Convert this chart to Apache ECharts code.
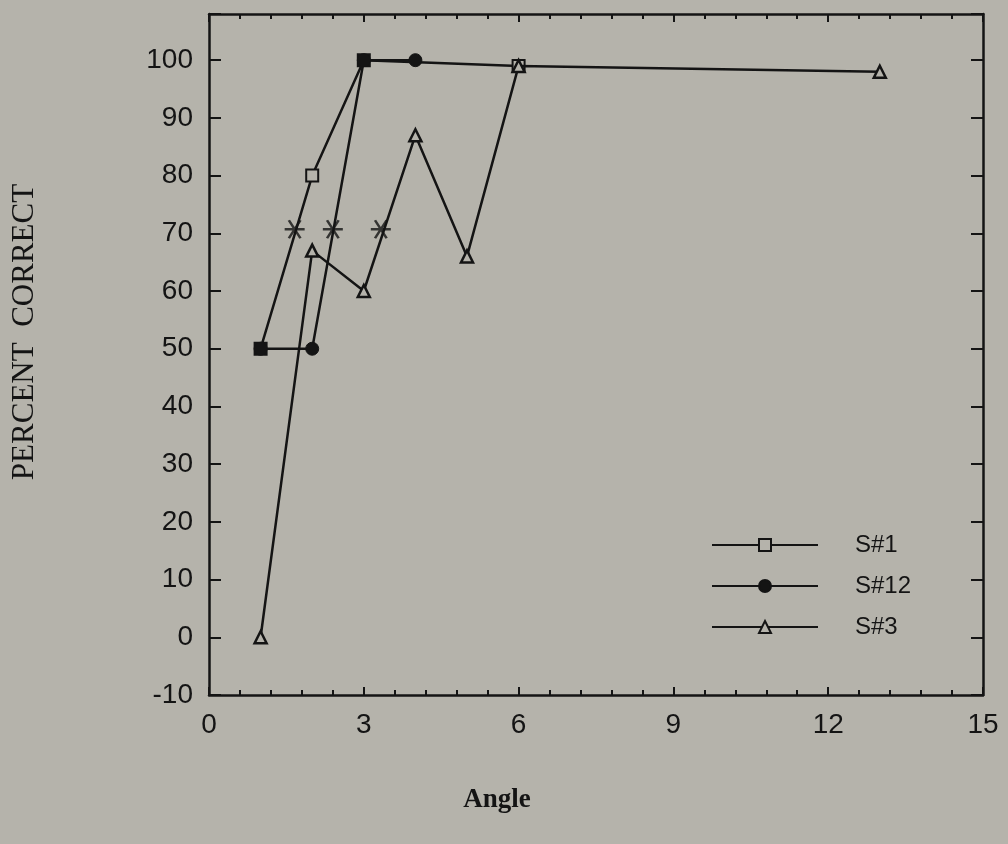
<!DOCTYPE html>
<html>
<head>
<meta charset="utf-8">
<script src="https://cdn.jsdelivr.net/npm/echarts@6/dist/echarts.min.js"></script>
<style>
  html, body { margin: 0; padding: 0; background: #b5b3ab; }
  #chart { width: 1008px; height: 844px; }
</style>
</head>
<body>
<div id="chart"></div>
<script>
// Percent correct versus angle for three subjects
const seriesNames = ['S#1', 'S#12', 'S#3'];

const s1Angle = [1, 2, 3, 6];
const s1Pct   = [50, 80, 100, 99];

const s12Angle = [1, 2, 3, 4];
const s12Pct   = [50, 50, 100, 100];

const s3Angle = [1, 2, 3, 4, 5, 6, 13];
const s3Pct   = [0, 67, 60, 87, 66, 99, 98];

// 70.7% threshold crossings marked with asterisks
const thrAngle = [1.66, 2.40, 3.33];
const thrPct   = [70.7, 70.7, 70.7];

const xTickStep = 3;
const yTickStep = 10;

const INK = '#141414';
const PAPER = '#b5b3ab';
const SANS = '"Liberation Sans", Arial, sans-serif';
const SERIF = '"Liberation Serif", "Times New Roman", serif';

const pairs = (xs, ys) => xs.map((x, i) => [x, ys[i]]);

// S#1 squares look solid where an S#12 circle sits on the same point
const s12Keys = new Set(pairs(s12Angle, s12Pct).map(p => p.join(',')));
const s1Data = pairs(s1Angle, s1Pct).map(p => s12Keys.has(p.join(','))
  ? { value: p, itemStyle: { color: INK } }
  : { value: p });

const chart = echarts.init(document.getElementById('chart'));

const xCommon = {
  type: 'value', min: 0, max: 15, interval: xTickStep,
  axisLine: { show: true, onZero: false, lineStyle: { color: INK, width: 2.5 } },
  axisTick: { show: true, inside: true, length: 8, lineStyle: { color: INK, width: 2 } },
  minorTick: { show: true, splitNumber: 5, length: 5, lineStyle: { color: INK, width: 2 } },
  splitLine: { show: false }
};
const yCommon = {
  type: 'value', min: -10, max: 108, interval: yTickStep,
  axisLine: { show: true, onZero: false, lineStyle: { color: INK, width: 2.5 } },
  axisTick: { show: true, inside: true, length: 12, lineStyle: { color: INK, width: 2 } },
  splitLine: { show: false }
};

chart.setOption({
  backgroundColor: PAPER,
  animation: false,
  grid: { left: 209, right: 25, top: 14, bottom: 149 },
  xAxis: [
    Object.assign({}, xCommon, {
      position: 'bottom',
      axisLabel: { show: true, margin: 16, fontSize: 28, fontFamily: SANS, color: INK }
    }),
    Object.assign({}, xCommon, { position: 'top', axisLabel: { show: false } })
  ],
  yAxis: [
    Object.assign({}, yCommon, {
      position: 'left',
      axisLabel: {
        show: true, margin: 16, fontSize: 28, fontFamily: SANS, color: INK,
        formatter: v => (v % yTickStep === 0 && v <= 100) ? String(v) : ''
      }
    }),
    Object.assign({}, yCommon, { position: 'right', axisLabel: { show: false } })
  ],
  legend: {
    data: seriesNames,
    orient: 'vertical',
    left: 706, top: 528,
    itemWidth: 106, itemHeight: 15, itemGap: 17,
    textStyle: { fontSize: 24, fontFamily: SANS, color: INK, padding: [0, 0, 0, 32] }
  },
  graphic: [
    {
      type: 'text', x: 25, y: 332, rotation: Math.PI / 2,
      style: { text: 'PERCENT  CORRECT', font: '31px ' + SERIF, fill: INK, align: 'center', verticalAlign: 'middle' }
    },
    {
      type: 'text', x: 497, y: 800,
      style: { text: 'Angle', font: 'bold 27px ' + SERIF, fill: INK, align: 'center', verticalAlign: 'middle' }
    }
  ],
  series: [
    {
      name: 'S#1', type: 'line', data: s1Data,
      symbol: 'rect', symbolSize: 12,
      lineStyle: { color: INK, width: 2.5 },
      itemStyle: { color: PAPER, borderColor: INK, borderWidth: 2 },
      z: 3
    },
    {
      name: 'S#12', type: 'line', data: pairs(s12Angle, s12Pct),
      symbol: 'circle', symbolSize: 13,
      lineStyle: { color: INK, width: 2.5 },
      itemStyle: { color: INK, borderColor: INK, borderWidth: 1 },
      z: 4
    },
    {
      name: 'S#3', type: 'line', data: pairs(s3Angle, s3Pct),
      symbol: 'triangle', symbolSize: 12,
      lineStyle: { color: INK, width: 2.5 },
      itemStyle: { color: PAPER, borderColor: INK, borderWidth: 2.5 },
      z: 5
    },
    {
      name: 'threshold', type: 'scatter', data: pairs(thrAngle, thrPct),
      symbol: 'path://M0,10L20,10M4.2,1.3L15.8,18.7M4.2,18.7L15.8,1.3',
      symbolSize: [20, 18],
      itemStyle: { color: INK, borderColor: INK, borderWidth: 2.5 },
      z: 6
    }
  ]
});
</script>
</body>
</html>
